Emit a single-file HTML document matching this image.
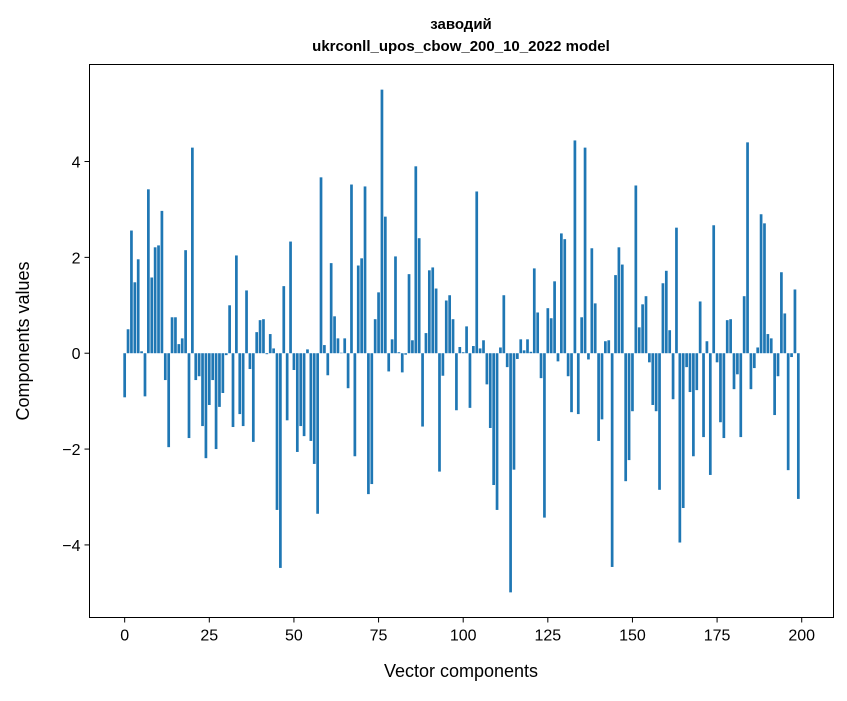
<!DOCTYPE html>
<html><head><meta charset="utf-8"><style>
body{margin:0;background:#fff;}
svg text{font-family:"Liberation Sans","DejaVu Sans",sans-serif;fill:#000;}
</style></head><body>
<svg id="chart" width="847" height="696" xmlns="http://www.w3.org/2000/svg">
<rect width="847" height="696" fill="#fff"/>
<text x="461" y="29" text-anchor="middle" font-size="15" font-weight="bold">заводий</text>
<text x="461" y="51" text-anchor="middle" font-size="15" font-weight="bold">ukrconll_upos_cbow_200_10_2022 model</text>
<g id="bars"></g>
<g id="xticks"></g>
<g id="yticks"></g>
<rect x="89.5" y="64.5" width="744" height="553" fill="none" stroke="#000" stroke-width="1"/>
<text x="461" y="677" text-anchor="middle" font-size="18">Vector components</text>
<text transform="translate(29,341) rotate(-90)" text-anchor="middle" font-size="18">Components values</text>
</svg>
<script>
const values = [-0.92,0.5,2.56,1.48,1.96,0.04,-0.9,3.42,1.58,2.21,2.25,2.97,-0.56,-1.96,0.75,0.75,0.19,0.31,2.15,-1.77,
4.29,-0.56,-0.48,-1.52,-2.19,-1.08,-0.56,-2.0,-1.12,-0.83,-0.04,1.0,-1.54,2.04,-1.27,-1.52,1.31,-0.33,-1.85,0.44,
0.69,0.71,-0.02,0.4,0.1,-3.27,-4.48,1.4,-1.4,2.33,-0.35,-2.06,-1.52,-1.73,0.08,-1.83,-2.31,-3.35,3.67,0.17,
-0.46,1.88,0.77,0.31,0.01,0.31,-0.73,3.52,-2.15,1.83,1.98,3.48,-2.94,-2.73,0.71,1.27,5.5,2.85,-0.38,0.29,
2.02,0.02,-0.4,-0.03,1.65,0.27,3.9,2.4,-1.53,0.42,1.73,1.79,1.35,-2.47,-0.47,1.1,1.21,0.71,-1.19,0.13,
0.02,0.56,-1.14,0.15,3.375,0.1,0.27,-0.65,-1.56,-2.75,-3.27,0.12,1.21,-0.29,-4.99,-2.43,-0.12,0.29,0.06,0.29,
0.03,1.77,0.85,-0.52,-3.43,0.94,0.73,1.5,-0.17,2.5,2.38,-0.48,-1.23,4.44,-1.27,0.75,4.29,-0.13,2.19,1.04,
-1.83,-1.38,0.25,0.27,-4.46,1.63,2.21,1.85,-2.67,-2.23,-1.21,3.5,0.54,1.02,1.19,-0.19,-1.08,-1.21,-2.85,1.46,
1.72,0.48,-0.96,2.62,-3.95,-3.23,-0.29,-0.81,-2.15,-0.77,1.08,-1.75,0.25,-2.54,2.67,-0.19,-1.44,-1.77,0.69,0.71,
-0.75,-0.44,-1.75,1.19,4.4,-0.75,-0.31,0.12,2.9,2.71,0.4,0.31,-1.29,-0.48,1.69,0.83,-2.44,-0.08,1.33,-3.04];
const xTickLabels = [0,25,50,75,100,125,150,175,200];
const yTickLabels = [-4,-2,0,2,4];

const NS="http://www.w3.org/2000/svg";
const L=89.5,R=833.5,T=64.5,B=617.5;
const xMin=-0.4-0.05*(values.length-0.2), xMax=(values.length-0.6)+0.05*(values.length-0.2);
const vmin=Math.min(0,...values), vmax=Math.max(0,...values), m=0.05*(vmax-vmin);
const yMin=vmin-m, yMax=vmax+m;
const xs=v=>L+(v-xMin)/(xMax-xMin)*(R-L);
const ys=v=>B-(v-yMin)/(yMax-yMin)*(B-T);
const bars=document.getElementById('bars');
values.forEach((v,i)=>{
  const r=document.createElementNS(NS,'rect');
  
  
  const x0=xs(i-0.4),x1=xs(i+0.4),y0=ys(Math.max(v,0)),y1=ys(Math.min(v,0));
  r.setAttribute('x',x0);r.setAttribute('width',x1-x0);
  r.setAttribute('y',y0);r.setAttribute('height',Math.max(y1-y0,0.01));
  r.setAttribute('fill','#1f77b4');
  bars.appendChild(r);
});
const xt=document.getElementById('xticks');
xTickLabels.forEach(t=>{
  const x=xs(t);
  const l=document.createElementNS(NS,'line');
  
  
  l.setAttribute('x1',x);l.setAttribute('x2',x);l.setAttribute('y1',B);l.setAttribute('y2',B+5);
  l.setAttribute('stroke','#000');
  xt.appendChild(l);
  const tx=document.createElementNS(NS,'text');
  
  
  tx.setAttribute('x',x);tx.setAttribute('y',B+23);tx.setAttribute('text-anchor','middle');tx.setAttribute('font-size','16');
  tx.textContent=t;
  xt.appendChild(tx);
});
const yt=document.getElementById('yticks');
yTickLabels.forEach(t=>{
  const y=ys(t);
  const l=document.createElementNS(NS,'line');
  
  
  l.setAttribute('x1',L-5);l.setAttribute('x2',L);l.setAttribute('y1',y);l.setAttribute('y2',y);
  l.setAttribute('stroke','#000');
  yt.appendChild(l);
  const tx=document.createElementNS(NS,'text');
  
  
  tx.setAttribute('x',L-9);tx.setAttribute('y',y+6);tx.setAttribute('text-anchor','end');tx.setAttribute('font-size','16');
  tx.textContent=(t<0?'\u2212'+(-t):''+t);
  yt.appendChild(tx);
});
</script>
</body></html>
